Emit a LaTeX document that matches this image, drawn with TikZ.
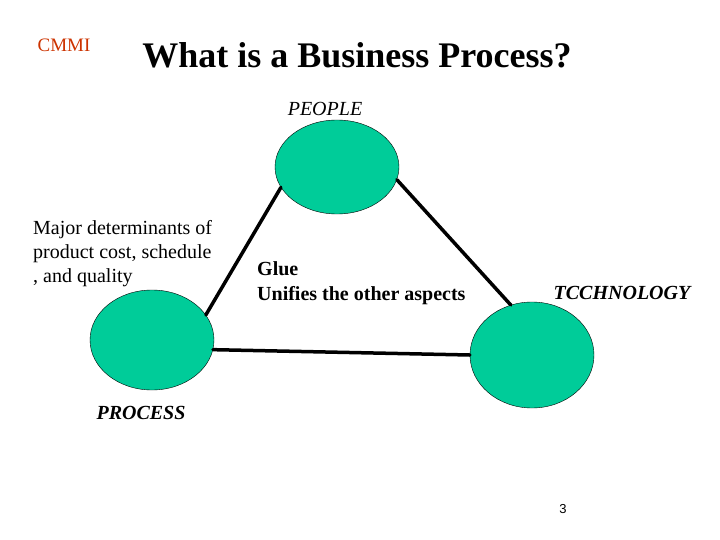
\documentclass[tikz,border=0pt]{standalone}
\usepackage{fontspec}
\setmainfont{Liberation Serif}
\setsansfont{Liberation Sans}
\usetikzlibrary{shapes.geometric}
\definecolor{blob}{HTML}{00CC99}
\definecolor{cmmired}{HTML}{CC3300}
\begin{document}
\begin{tikzpicture}[
    x=1pt, y=-1pt,
    blob/.style={ellipse, draw=black, fill=blob, inner sep=0pt},
    link/.style={line width=3.5pt, line cap=round},
    caption/.style={font=\fontsize{20}{24}\selectfont\bfseries\itshape}
]
    \useasboundingbox (0,0) rectangle (720,540);

    % Title
    \node[text=cmmired, font=\fontsize{19}{22}\selectfont] (cmmi) at (64,45) {CMMI};
    \node[font=\fontsize{36}{42}\selectfont\bfseries] (title) at (357,55) {What is a Business Process?};

    % Circles
    \node[blob, minimum width=124pt, minimum height=94pt] (people) at (337,167) {};
    \node[blob, minimum width=124pt, minimum height=100pt] (process) at (152,340) {};
    \node[blob, minimum width=124pt, minimum height=106pt] (tech) at (532,355) {};

    % Labels
    \node[font=\fontsize{20}{24}\selectfont\itshape] (peoplelbl) at (325,109) {PEOPLE};
    \node[caption] (processlbl) at (141,413) {PROCESS};
    \node[caption] (techlbl) at (622,293) {TCCHNOLOGY};
    \node[anchor=west, align=left, font=\fontsize{20}{24}\selectfont, inner sep=0pt] (major) at (33,254)
        {Major determinants of\\product cost, schedule\\, and quality};
    \node[anchor=west, align=left, font=\fontsize{20}{25}\selectfont\bfseries, inner sep=0pt] (glue) at (257,283)
        {Glue\\Unifies the other aspects};
    \node[font=\sffamily\fontsize{13}{15}\selectfont] (page) at (563,509) {3};

    % Links
    \draw[link] (people.200) -- (process.25);
    \draw[link] (people.348) -- (tech.113);
    \draw[link] (process.351) -- (tech.180);
\end{tikzpicture}
\end{document}
